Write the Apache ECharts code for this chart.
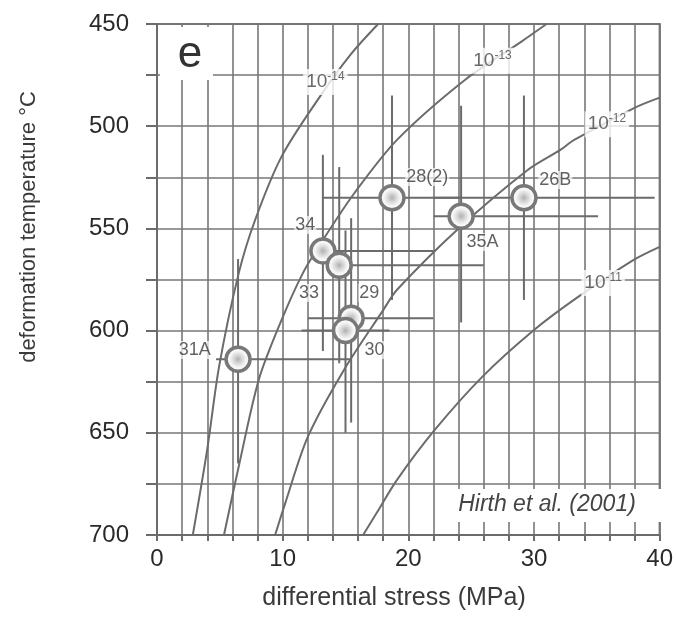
<!DOCTYPE html>
<html>
<head>
<meta charset="utf-8">
<script src="https://cdn.jsdelivr.net/npm/echarts@6/dist/echarts.min.js"></script>
<style>
  html, body { margin: 0; padding: 0; background: #fff; }
  #chart { width: 676px; height: 624px; }
</style>
</head>
<body>
<div id="chart"></div>
<script>
// samples: [stress MPa, temperature °C]
const samples = ['31A', '34', '33', '29', '30', '28(2)', '35A', '26B'];
const stress = [6.45, 13.2, 14.5, 15.45, 15.0, 18.7, 24.2, 29.2];
const temp = [614, 561, 568, 594, 600, 535, 544, 535];
// error bar extents
const stressLow = [4.7, 13.2, 14.5, 12.0, 11.5, 13.2, 22.0, 22.0];
const stressHigh = [15.4, 22.0, 26.0, 22.0, 18.5, 24.2, 35.1, 39.6];
const tempLow = [565, 514, 520, 545, 551, 485, 490, 485];
const tempHigh = [665, 610, 616, 645, 650, 585, 596, 585];
// sample label anchor positions
const labelStress = [3.0, 11.8, 12.1, 16.9, 17.3, 21.5, 25.9, 31.7];
const labelTemp = [609.5, 548.3, 581.6, 581.6, 609.5, 524.9, 556.7, 526.3];

// strain rate contours (Hirth et al. 2001)
const rate14 = [[2.85, 700], [4.0, 658], [4.94, 617.6], [6.5, 572], [7.8, 546], [9.9, 515], [12.8, 487], [15.4, 465], [17.6, 450]];
const rate13 = [[5.33, 700], [6.5, 666.6], [8.1, 624], [9.9, 595], [11.6, 572], [13.2, 555.7], [15.7, 532.8], [19.1, 506.7], [24.5, 477.4], [29.0, 458.6], [31.0, 450]];
const rate12 = [[9.4, 700], [10.2, 684.5], [12.0, 652], [14.9, 619], [18.0, 590], [19.1, 580], [24.0, 550], [29.5, 521.4], [32.1, 511.6], [33.2, 506.7], [38.0, 491], [40.0, 486]];
const rate11 = [[16.4, 700], [17.5, 689], [19.1, 673], [22.1, 648.6], [25.9, 622.5], [30.0, 599.7], [33.4, 584], [37.9, 565.5], [40.0, 559]];
const rateExp = ['-14', '-13', '-12', '-11'];
const rateLabelPos = [[13.4, 478.4], [26.7, 468], [35.8, 499], [35.5, 576.7]];

const xTicks = [0, 10, 20, 30, 40];
const yTicks = [450, 500, 550, 600, 650, 700];

const lineColor = '#6b6b6b';
const chart = echarts.init(document.getElementById('chart'));

const curveSeries = [rate14, rate13, rate12, rate11].map(d => ({
  type: 'line',
  data: d,
  smooth: 0.3,
  symbol: 'none',
  silent: true,
  z: 3,
  lineStyle: { color: lineColor, width: 2 }
}));

const option = {
  animation: false,
  grid: {
    left: 157, right: 9, top: 24, bottom: 89,
    show: true, borderColor: lineColor, borderWidth: 2
  },
  xAxis: {
    type: 'value', min: 0, max: 40, interval: 2,
    axisLine: { lineStyle: { color: lineColor, width: 2 } },
    axisTick: { length: 6, lineStyle: { color: lineColor, width: 2 } },
    axisLabel: {
      margin: 12, fontSize: 24, color: '#2a2a2a', fontFamily: 'Liberation Sans',
      formatter: v => xTicks.includes(v) ? String(v) : ''
    },
    splitLine: { lineStyle: { color: '#777', width: 1.6 } }
  },
  yAxis: {
    type: 'value', min: 450, max: 700, interval: 25, inverse: true,
    axisLine: { lineStyle: { color: lineColor, width: 2 } },
    axisTick: { length: 11, lineStyle: { color: lineColor, width: 2 } },
    axisLabel: {
      margin: 28, fontSize: 24, color: '#2a2a2a', fontFamily: 'Liberation Sans',
      formatter: v => yTicks.includes(v) ? String(v) : ''
    },
    splitLine: { lineStyle: { color: '#777', width: 1.6 } }
  },
  graphic: [
    { type: 'rect', z: 100, shape: { x: 160, y: 27, width: 53, height: 53 }, style: { fill: '#fff' } },
    { type: 'text', z: 101, style: { text: 'e', x: 190, y: 55, align: 'center', verticalAlign: 'middle', font: '44px "Liberation Sans"', fill: '#333' } },
    { type: 'rect', z: 100, shape: { x: 440, y: 489, width: 222, height: 33 }, style: { fill: '#fff' } },
    { type: 'text', z: 101, style: { text: 'Hirth et al. (2001)', x: 547, y: 505, align: 'center', verticalAlign: 'middle', font: 'italic 23px "Liberation Sans"', fill: '#444' } },
    { type: 'text', z: 101, rotation: Math.PI / 2, x: 29, y: 227, style: { text: 'deformation temperature °C', x: 0, y: 0, align: 'center', verticalAlign: 'middle', font: '22px "Liberation Sans"', fill: '#3a3a3a' } },
    { type: 'text', z: 101, style: { text: 'differential stress (MPa)', x: 394, y: 598, align: 'center', verticalAlign: 'middle', font: '25px "Liberation Sans"', fill: '#3a3a3a' } }
  ],
  series: [
    ...curveSeries,
    {
      // strain rate labels
      type: 'scatter', symbolSize: 0, silent: true, z: 6,
      data: rateLabelPos.map((p, i) => ({ value: p, exp: rateExp[i] })),
      label: {
        show: true, position: 'inside',
        formatter: p => '{b|10}{s|' + p.data.exp + '}',
        backgroundColor: '#fff', padding: [2, 3],
        rich: {
          b: { fontSize: 19, color: '#444', fontFamily: 'Liberation Sans' },
          s: { fontSize: 12, color: '#444', fontFamily: 'Liberation Sans', padding: [0, 0, 10, 0] }
        }
      }
    },
    {
      // error bars
      type: 'custom', z: 4, silent: true,
      data: samples.map((s, i) => [stress[i], temp[i], stressLow[i], stressHigh[i], tempLow[i], tempHigh[i]]),
      encode: { x: 0, y: 1 },
      renderItem: (params, api) => {
        const y = api.value(1), x = api.value(0);
        const a = api.coord([api.value(2), y]), b = api.coord([api.value(3), y]);
        const c = api.coord([x, api.value(4)]), d = api.coord([x, api.value(5)]);
        const st = { stroke: lineColor, lineWidth: 2 };
        return {
          type: 'group',
          children: [
            { type: 'line', shape: { x1: a[0], y1: a[1], x2: b[0], y2: b[1] }, style: st },
            { type: 'line', shape: { x1: c[0], y1: c[1], x2: d[0], y2: d[1] }, style: st }
          ]
        };
      }
    },
    {
      type: 'scatter', z: 5, silent: true,
      symbol: 'circle', symbolSize: 24,
      data: samples.map((s, i) => [stress[i], temp[i]]),
      itemStyle: {
        borderColor: '#787878', borderWidth: 3.5, opacity: 1,
        color: {
          type: 'radial', x: 0.5, y: 0.5, r: 0.5,
          colorStops: [
            { offset: 0, color: '#b0b0b0' },
            { offset: 0.3, color: '#d6d6d6' },
            { offset: 0.6, color: '#f6f6f6' },
            { offset: 1, color: '#fff' }
          ]
        }
      }
    },
    {
      // sample names
      type: 'scatter', symbolSize: 0, silent: true, z: 6,
      data: samples.map((s, i) => ({ value: [labelStress[i], labelTemp[i]], name: s })),
      label: {
        show: true, position: 'inside', formatter: p => p.name,
        fontSize: 18, color: '#3a3a3a', fontFamily: 'Liberation Sans',
        backgroundColor: 'rgba(255,255,255,0.85)', padding: [0, 1]
      }
    }
  ]
};

chart.setOption(option);
</script>
</body>
</html>
